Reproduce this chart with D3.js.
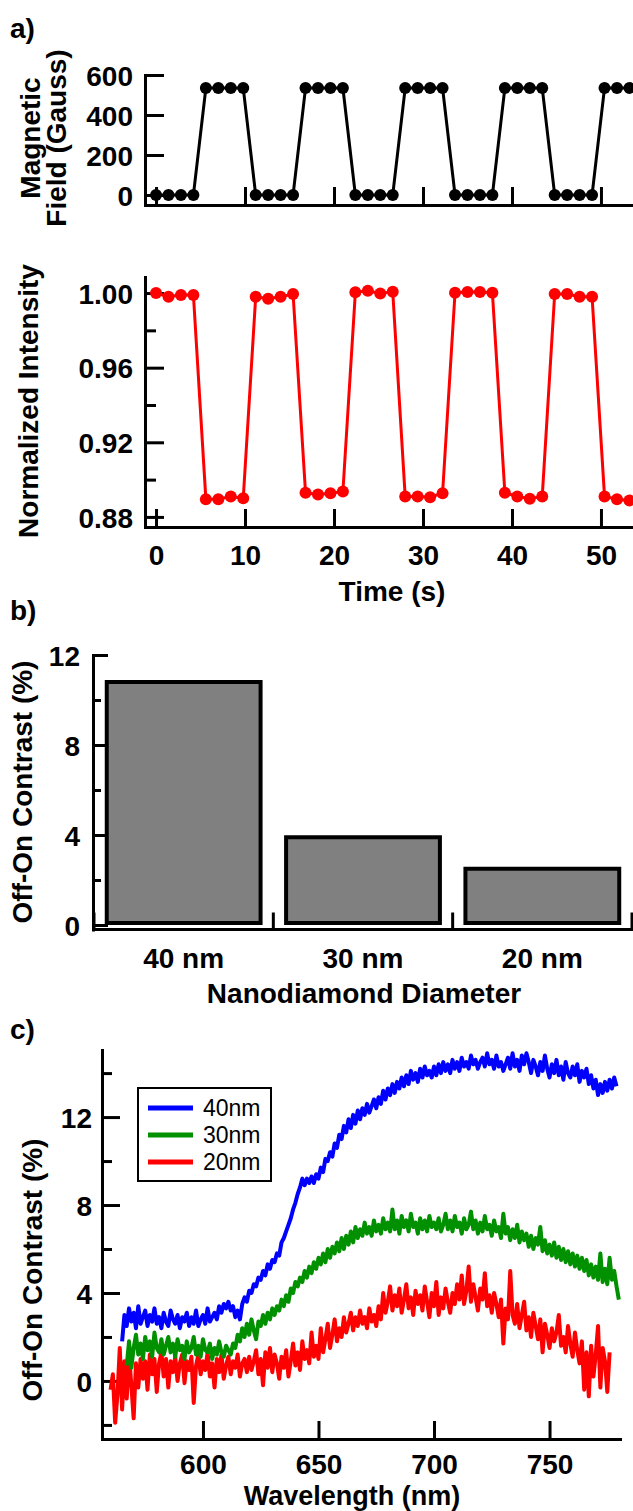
<!DOCTYPE html>
<meta charset="utf-8">
<style>
body { margin: 0; background: #fff; }
svg { display: block; font-family: "Liberation Sans", Arial, sans-serif; }
.axis path, .axis line { stroke: #000; stroke-width: 3; }
.axis path { stroke-linecap: square; }
.axis text { font-size: 28px; font-weight: bold; fill: #000; font-family: "Liberation Sans", Arial, sans-serif; }
.label { font-size: 28px; font-weight: bold; fill: #000; }
</style>
<svg width="633" height="1511"></svg>
<script src="https://d3js.org/d3.v7.min.js"></script>
<script>

// ---- panel a : field switching ----
var times = [0, 1.4, 2.8, 4.2, 5.6, 7.0, 8.4, 9.8, 11.2, 12.6, 14.0, 15.4, 16.8, 18.2, 19.6, 21.0,
  22.4, 23.8, 25.2, 26.6, 28.0, 29.4, 30.8, 32.2, 33.6, 35.0, 36.4, 37.8, 39.2, 40.6, 42.0, 43.4,
  44.8, 46.2, 47.6, 49.0, 50.4, 51.8, 53.2];
var field = [0, 0, 0, 0, 535, 535, 535, 535, 0, 0, 0, 0, 535, 535, 535, 535,
  0, 0, 0, 0, 535, 535, 535, 535, 0, 0, 0, 0, 535, 535, 535, 535,
  0, 0, 0, 0, 535, 535, 535];
var intensity = [1.000, 0.998, 0.999, 0.999, 0.8895, 0.8895, 0.891, 0.890,
  0.998, 0.997, 0.998, 0.9995, 0.893, 0.892, 0.8927, 0.8936,
  1.0004, 1.0012, 0.9998, 1.0007, 0.891, 0.891, 0.8906, 0.8927,
  1.0002, 1.0005, 1.0005, 1.0002, 0.893, 0.891, 0.8897, 0.891,
  0.9995, 0.9995, 0.998, 0.998, 0.891, 0.8895, 0.8888];
var timeTicks = [0, 10, 20, 30, 40, 50];

// ---- panel b : contrast per size ----
var sizes = ["40 nm", "30 nm", "20 nm"];
var contrast = [10.8, 3.9, 2.5];

// ---- panel c : contrast spectra (1 nm steps) ----
var series = ["40nm", "30nm", "20nm"];
var colors = ["#0000ff", "#009000", "#ff0000"];
var startNm = [565, 567, 560];
var spec40 = [1.8, 3.0, 2.5, 3.3, 2.7, 3.1, 2.4, 3.4, 2.6, 2.9, 3.2, 2.5, 3.0, 2.7, 3.3,
  2.6, 2.9, 2.4, 3.1, 2.7, 2.5, 3.2, 2.8, 2.6, 3.0, 2.4, 2.9, 2.7, 3.1, 2.5,
  2.9, 2.6, 3.2, 2.5, 2.8, 3.0, 2.6, 3.3, 2.7, 2.9, 3.1, 2.8, 3.4, 3.1, 3.5,
  3.3, 3.6, 3.2, 3.4, 2.9, 3.2, 2.8, 3.5, 3.8, 3.6, 4.1, 4.0, 4.4, 4.3, 4.7,
  4.6, 5.0, 4.8, 5.3, 5.1, 5.5, 5.4, 5.8, 5.7, 6.3, 6.5, 6.8, 7.1, 7.4, 7.8,
  8.1, 8.5, 8.8, 9.2, 8.9, 9.2, 9.0, 9.3, 9.0, 9.4, 9.2, 9.7, 9.5, 10.1, 10.0,
  10.4, 10.2, 10.8, 10.6, 11.2, 11.0, 11.6, 11.3, 11.9, 11.5, 12.1, 11.7, 12.3, 11.9, 12.4,
  12.1, 12.6, 12.2, 12.5, 12.8, 12.4, 12.9, 12.6, 13.2, 12.8, 13.3, 13.0, 13.5, 13.1, 13.6,
  13.3, 13.8, 13.4, 13.9, 13.5, 14.1, 13.7, 14.0, 13.6, 14.2, 13.8, 14.3, 13.9, 14.1, 13.8,
  14.3, 13.9, 14.4, 14.0, 14.5, 14.1, 14.4, 14.0, 14.6, 14.2, 14.5, 14.1, 14.7, 14.3, 14.5,
  14.2, 14.8, 14.4, 14.6, 14.2, 14.5, 14.7, 14.3, 14.9, 14.4, 14.6, 14.2, 14.8, 14.3, 14.5,
  14.1, 14.4, 14.7, 14.2, 14.9, 14.3, 14.6, 14.1, 14.8, 14.4, 14.9, 14.5, 14.0, 14.6, 14.3,
  13.9, 14.5, 14.1, 14.8, 14.2, 13.8, 14.4, 14.0, 14.6, 13.9, 14.3, 13.7, 14.5, 14.0, 13.8,
  14.3, 13.9, 14.4, 13.6, 14.1, 13.8, 14.2, 13.5, 13.9, 13.3, 13.7, 13.0, 13.5, 13.1, 13.6,
  13.2, 13.7, 13.3, 13.8, 13.4];
var spec30 = [0.7, 1.8, 0.6, 1.5, 2.1, 1.2, 1.7, 1.0, 2.0, 1.4, 1.8, 1.1, 2.2, 1.5, 1.3,
  1.9, 1.2, 1.6, 2.0, 1.3, 1.7, 1.1, 1.9, 1.4, 1.6, 1.0, 1.8, 1.3, 1.5, 2.0,
  1.2, 1.6, 1.1, 1.9, 1.4, 1.3, 1.7, 1.0, 1.5, 1.2, 1.8, 1.3, 1.1, 1.6, 1.4,
  1.2, 1.7, 1.5, 2.1, 1.8, 2.4, 2.0, 2.6, 2.1, 2.8, 2.3, 1.9, 2.7, 2.5, 3.0,
  2.6, 3.1, 2.8, 3.3, 3.0, 3.4, 3.2, 3.7, 3.4, 3.9, 3.6, 4.2, 4.0, 4.5, 4.3,
  4.7, 4.5, 5.0, 4.7, 5.2, 4.9, 5.4, 5.1, 5.6, 5.3, 5.8, 5.4, 6.0, 5.6, 6.1,
  5.8, 6.3, 5.9, 6.5, 6.0, 6.6, 6.2, 6.8, 6.3, 7.0, 6.5, 6.9, 6.6, 7.2, 6.7,
  7.0, 6.6, 7.3, 6.8, 7.1, 6.7, 7.4, 6.9, 7.2, 6.8, 7.8, 6.9, 7.3, 6.7, 7.5,
  7.0, 7.3, 6.8, 7.6, 7.0, 7.2, 6.7, 7.4, 6.9, 7.3, 6.8, 7.5, 7.0, 7.2, 6.9,
  7.4, 6.8, 7.1, 7.6, 6.9, 7.3, 6.8, 7.5, 7.0, 7.2, 6.7, 7.4, 6.9, 7.1, 7.7,
  6.9, 7.3, 6.7, 7.2, 6.8, 7.5, 6.9, 7.1, 6.6, 7.3, 6.8, 7.0, 6.5, 7.6, 6.7,
  7.0, 6.4, 6.9, 6.5, 7.1, 6.3, 6.8, 6.4, 6.7, 6.1, 6.6, 6.0, 6.5, 6.2, 7.0,
  5.9, 6.4, 5.8, 6.2, 5.7, 6.3, 5.6, 6.1, 5.5, 6.0, 5.4, 5.9, 5.3, 5.8, 5.2,
  5.7, 5.1, 5.6, 5.0, 5.5, 4.8, 5.3, 4.7, 5.2, 4.6, 5.8, 4.5, 5.1, 4.4, 5.6,
  4.6, 5.0, 4.3, 3.7];
var spec20 = [-0.4, 0.3, -1.9, -0.6, 1.5, -1.3, 0.9, -0.8, 1.2, -0.2, -1.7, 0.8, -0.3, 1.0, 0.1,
  0.9, -0.4, 1.2, 0.3, 1.0, -0.5, 0.8, 1.3, 0.2, 1.0, -0.3, 0.9, 0.4, 1.1, 0.0,
  0.8, 1.2, -0.1, 0.9, 0.5, 1.1, -1.0, 0.7, 1.2, 0.3, 0.9, 0.5, 1.3, 0.2, 0.8,
  -0.3, 1.0, 0.4, 1.2, 0.1, 0.7, 1.1, 0.3, 0.9, 0.6, 1.2, 0.2, 0.8, 1.0, 0.4,
  1.1, 0.5, 0.9, 1.4, 0.3, 1.0, -0.2, 1.3, 0.6, 1.5, 0.4, 1.2, 0.8, 0.1, 1.1,
  0.6, 1.4, 0.2, 0.9, 1.7, 0.7, 1.3, 0.5, 1.8, 1.0, 1.4, 0.8, 2.2, 1.1, 1.6,
  1.0, 2.4, 1.3, 1.9, 2.6, 1.5, 2.1, 2.8, 1.8, 2.4, 2.0, 2.9, 2.2, 2.6, 3.1,
  2.3, 2.9, 2.5, 3.2, 2.6, 2.9, 2.4, 3.3, 2.7, 3.0, 2.5, 3.4, 2.8, 4.0, 3.1,
  3.6, 4.3, 3.2, 3.9, 3.4, 4.2, 3.1, 3.7, 4.4, 3.3, 3.8, 3.0, 4.1, 3.5, 3.9,
  3.2, 4.3, 3.6, 2.9, 4.0, 3.4, 4.5, 3.0, 3.8, 3.3, 4.2, 3.6, 3.1, 4.0, 3.5,
  4.4, 3.7, 4.8, 3.5, 4.1, 5.2, 3.6, 4.4, 3.8, 3.2, 4.2, 3.7, 4.9, 3.4, 3.9,
  3.1, 4.0, 3.5, 2.9, 3.7, 1.7, 3.3, 2.8, 5.0, 3.0, 2.6, 3.5, 2.4, 3.0, 3.6,
  2.3, 2.9, 2.0, 3.1, 2.5, 1.9, 2.8, 1.3, 2.6, 2.1, 1.5, 2.4, 1.8, 2.2, 3.0,
  1.6, 2.0, 1.3, 2.5, 1.7, 1.1, 2.2, 1.4, 0.8, 1.8, -0.4, 1.3, -0.7, 1.6, 0.2,
  1.2, 2.5, -0.3, 1.5, 0.9, -0.5, 1.3];
var wlTicks = [600, 650, 700, 750];

var svg = d3.select("svg");
svg.append("rect").attr("width", 633).attr("height", 1511).attr("fill", "#fff");

function yAxis(scale, x, major, minor, majorLen, minorLen, pad, fmt) {
  var g = svg.append("g").attr("class", "axis").attr("transform", "translate(" + x + ",0)");
  g.call(d3.axisLeft(scale).tickValues(major).tickSize(-majorLen).tickSizeOuter(0)
    .tickPadding(pad).tickFormat(fmt));
  if (minor.length) {
    svg.append("g").attr("class", "axis").attr("transform", "translate(" + x + ",0)")
      .call(d3.axisLeft(scale).tickValues(minor).tickSize(-minorLen).tickSizeOuter(0).tickFormat(""))
      .select(".domain").remove();
  }
  g.selectAll("text").attr("dy", "0.36em");
  return g;
}

function xAxis(scale, y, ticks, len, labels, pad) {
  var g = svg.append("g").attr("class", "axis").attr("transform", "translate(0," + y + ")");
  g.call(d3.axisBottom(scale).tickValues(ticks).tickSize(-len).tickSizeOuter(0)
    .tickPadding(pad || 18).tickFormat(labels ? d3.format("d") : ""));
  return g;
}

function rotLabel(text, x, y) {
  svg.append("text").attr("class", "label")
    .attr("transform", "translate(" + x + "," + y + ") rotate(-90)")
    .attr("text-anchor", "middle").text(text);
}

function label(text, x, y, anchor, size) {
  var t = svg.append("text").attr("class", "label").attr("x", x).attr("y", y)
    .attr("text-anchor", anchor || "middle").text(text);
  if (size) t.style("font-size", size + "px");
}

// ================= a) =================
label("a)", 10, 38, "start");

var xT = d3.scaleLinear().domain([-1.24, 53.6]).range([145, 633]);
var yB = d3.scaleLinear().domain([-50, 600]).range([205, 75]);

yAxis(yB, 145, [0, 200, 400, 600], [], 19, 0, 12, d3.format("d"));
xAxis(xT, 205, timeTicks, 18, false);
rotLabel("Magnetic", 40, 138);
rotLabel("Field (Gauss)", 66, 138);

var magPts = times.map(function(t, i) { return [t, field[i]]; });
svg.append("path").datum(magPts)
  .attr("fill", "none").attr("stroke", "#000").attr("stroke-width", 3)
  .attr("d", d3.line().x(function(d) { return xT(d[0]); }).y(function(d) { return yB(d[1]); }));
svg.append("g").selectAll("circle").data(magPts).enter().append("circle")
  .attr("cx", function(d) { return xT(d[0]); })
  .attr("cy", function(d) { return yB(d[1]); })
  .attr("r", 6).attr("fill", "#000");

var yI = d3.scaleLinear().domain([0.8746, 1.0086]).range([527, 277]);
yAxis(yI, 145, [0.88, 0.92, 0.96, 1.00], [0.90, 0.94, 0.98], 19, 11, 12, d3.format(".2f"));
xAxis(xT, 527, timeTicks, 18, true);
rotLabel("Normalized Intensity", 38, 401);
label("Time (s)", 392, 601);

var intPts = times.map(function(t, i) { return [t, intensity[i]]; });
svg.append("path").datum(intPts)
  .attr("fill", "none").attr("stroke", "#ff0000").attr("stroke-width", 3)
  .attr("d", d3.line().x(function(d) { return xT(d[0]); }).y(function(d) { return yI(d[1]); }));
svg.append("g").selectAll("circle").data(intPts).enter().append("circle")
  .attr("cx", function(d) { return xT(d[0]); })
  .attr("cy", function(d) { return yI(d[1]); })
  .attr("r", 6).attr("fill", "#ff0000");

// ================= b) =================
label("b)", 10, 620, "start");

var xS = d3.scaleBand().domain(sizes).range([94, 632]).paddingInner(0.12).paddingOuter(0.06);
var yC = d3.scaleLinear().domain([-0.2, 12]).range([929.5, 655]);

svg.append("g").selectAll("rect").data(sizes).enter().append("rect")
  .attr("x", function(d) { return xS(d) + 2; })
  .attr("width", xS.bandwidth() - 4)
  .attr("y", function(d, i) { return yC(contrast[i]); })
  .attr("height", function(d, i) { return yC(0) - yC(contrast[i]) - 2; })
  .attr("fill", "#808080").attr("stroke", "#000").attr("stroke-width", 4);

yAxis(yC, 93, [0, 4, 8, 12], [2, 6, 10], 15, 8, 13, d3.format("d"));

var gb = svg.append("g").attr("class", "axis");
gb.append("line").attr("x1", 93).attr("x2", 633).attr("y1", yC.range()[0]).attr("y2", yC.range()[0]);
var bounds = sizes.map(function(d) { return xS(d) - xS.step() * xS.paddingInner() / 2; });
bounds.push(xS(sizes[2]) + xS.bandwidth() + xS.step() * xS.paddingInner() / 2);
gb.selectAll(".bt").data(bounds).enter().append("line")
  .attr("x1", function(d) { return d; }).attr("x2", function(d) { return d; })
  .attr("y1", yC.range()[0]).attr("y2", yC.range()[0] - 17);
sizes.forEach(function(s) { label(s, xS(s) + xS.bandwidth() / 2, 968); });
label("Nanodiamond Diameter", 364, 1003);
rotLabel("Off-On Contrast (%)", 32, 792);

// ================= c) =================
label("c)", 10, 1039, "start");

var xW = d3.scaleLinear().domain([556.3, 780.5]).range([102, 620]);
var yW = d3.scaleLinear().domain([-2.64, 15.05]).range([1439, 1050]);

yAxis(yW, 102, [0, 4, 8, 12], [-2, 2, 6, 10, 14], 18, 10, 10, d3.format("d"));
xAxis(xW, 1439, wlTicks, 18, true, 15);
rotLabel("Off-On Contrast (%)", 42, 1270);
label("Wavelength (nm)", 352, 1505, "middle", 27);

var specs = [spec40, spec30, spec20];
var lineW = d3.line().x(function(d) { return xW(d[0]); }).y(function(d) { return yW(d[1]); });
// red first so blue ends on top
[2, 1, 0].forEach(function(k) {
  var pts = specs[k].map(function(v, i) { return [startNm[k] + i, v]; });
  svg.append("path").datum(pts)
    .attr("fill", "none").attr("stroke", colors[k]).attr("stroke-width", 4)
    .attr("stroke-linejoin", "round").attr("d", lineW);
});

var leg = svg.append("g").attr("transform", "translate(138,1088)");
leg.append("rect").attr("width", 133).attr("height", 93)
  .attr("fill", "#fff").attr("stroke", "#000").attr("stroke-width", 2);
series.forEach(function(s, i) {
  leg.append("line").attr("x1", 10).attr("x2", 55)
    .attr("y1", 20 + i * 27).attr("y2", 20 + i * 27)
    .attr("stroke", colors[i]).attr("stroke-width", 5);
  leg.append("text").attr("x", 65).attr("y", 20 + i * 27).attr("dy", "0.36em")
    .style("font-size", "23px").style("fill", "#000").text(s);
});

</script>
